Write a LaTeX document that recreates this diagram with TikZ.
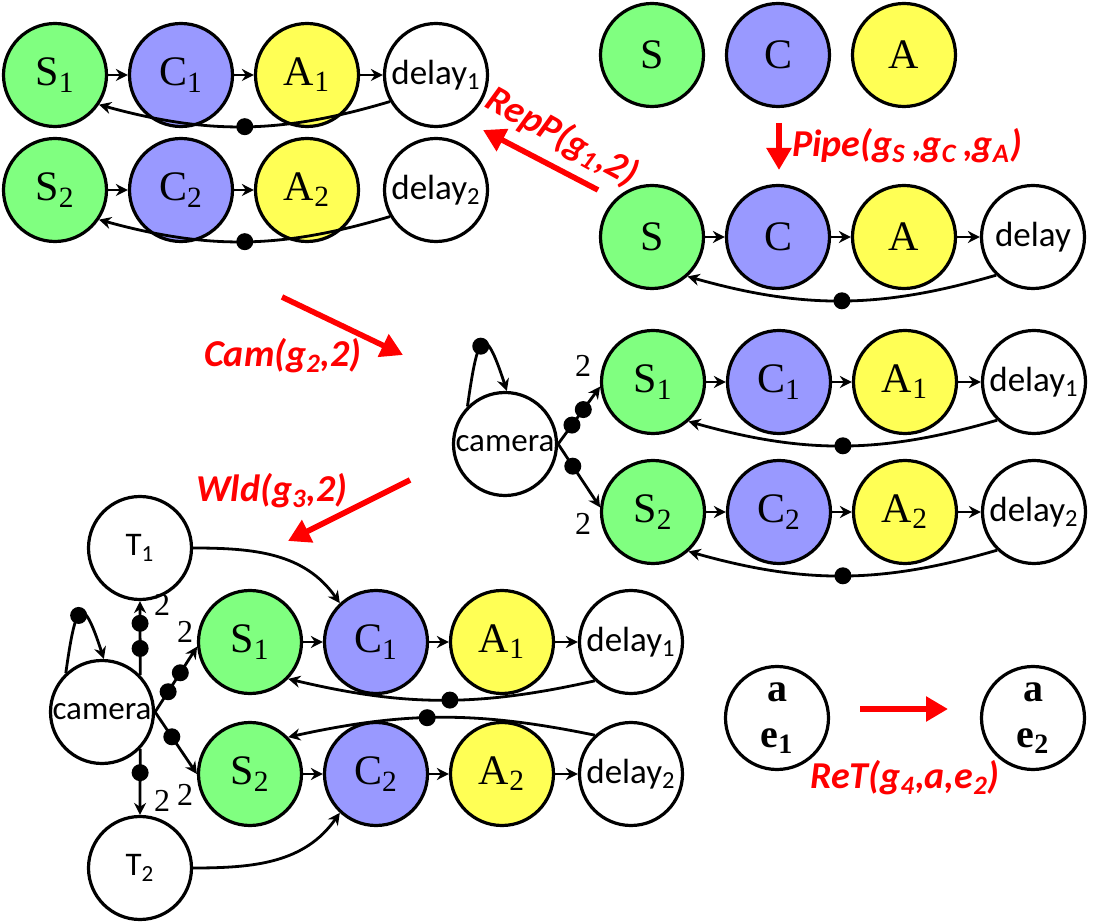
\documentclass[tikz,border=0pt]{standalone}
\usepackage{fontspec}
\setmainfont{Liberation Serif}
\newfontfamily\calib{Carlito}
\usetikzlibrary{arrows.meta}
\definecolor{sgreen}{RGB}{128,255,128}
\definecolor{cblue}{RGB}{153,153,255}
\definecolor{ayellow}{RGB}{255,255,85}
\tikzset{
  actor/.style={circle,draw,line width=1.6pt,minimum size=51.5pt,inner sep=0pt},
  snode/.style={actor,fill=sgreen,font=\fontsize{21}{21}\selectfont},
  cnode/.style={actor,fill=cblue,font=\fontsize{21}{21}\selectfont},
  anode/.style={actor,fill=ayellow,font=\fontsize{21}{21}\selectfont},
  dnode/.style={actor,fill=white,font=\calib\fontsize{17.5}{17.5}\selectfont},
  camnode/.style={actor,fill=white,font=\calib\fontsize{16.5}{16.5}\selectfont},
  enode/.style={actor,fill=white,align=center,font=\bfseries\fontsize{20}{23}\selectfont},
  tok/.style={circle,fill=black,inner sep=0pt,minimum size=8.5pt},
  link/.style={-{Stealth[length=6pt,width=6pt]},line width=1.4pt},
  redarrow/.style={-{Triangle[length=11pt,width=12pt]},draw=red,line width=2.8pt},
  redtext/.style={text=red,inner sep=0pt,font=\calib\bfseries\itshape\fontsize{19}{19}\selectfont},
  rate/.style={inner sep=0pt,font=\fontsize{16}{16}\selectfont}
}
\begin{document}
\begin{tikzpicture}[x=0.5pt,y=-0.5pt]
\useasboundingbox (0,0) rectangle (1098,924);

\node[snode] (tS1) at (55,75) {S\textsubscript{1}};
\node[cnode] (tC1) at (181,75) {C\textsubscript{1}};
\node[anode] (tA1) at (307,75) {A\textsubscript{1}};
\node[dnode] (tD1) at (436,75) {delay\textsubscript{1}};
\node[snode] (tS2) at (55,190) {S\textsubscript{2}};
\node[cnode] (tC2) at (181,190) {C\textsubscript{2}};
\node[anode] (tA2) at (307,190) {A\textsubscript{2}};
\node[dnode] (tD2) at (436,190) {delay\textsubscript{2}};

\draw[link] (tS1) -- (tC1);
\draw[link] (tC1) -- (tA1);
\draw[link] (tA1) -- (tD1);
\draw[link] (tD1.210) to[bend left=16] node[tok,pos=.5] (tk1) {} (tS1.-34);
\draw[link] (tS2) -- (tC2);
\draw[link] (tC2) -- (tA2);
\draw[link] (tD2.210) to[bend left=16] node[tok,pos=.5] (tk2) {} (tS2.-34);

\node[snode] (pS) at (652,55) {S};
\node[cnode] (pC) at (778,55) {C};
\node[anode] (pA) at (904,55) {A};

\node[snode] (qS) at (652,237) {S};
\node[cnode] (qC) at (778,237) {C};
\node[anode] (qA) at (904,237) {A};
\node[dnode] (qD) at (1033,237) {delay};
\draw[link] (qS) -- (qC);
\draw[link] (qC) -- (qA);
\draw[link] (qA) -- (qD);
\draw[link] (qD.226) to[bend left=16] node[tok,pos=.5] (tk3) {} (qS.-48);

\node[camnode] (rcam) at (505,444) {camera};
\node[snode] (rS1) at (653,382) {S\textsubscript{1}};
\node[cnode] (rC1) at (779,382) {C\textsubscript{1}};
\node[anode] (rA1) at (905,382) {A\textsubscript{1}};
\node[dnode] (rD1) at (1034,382) {delay\textsubscript{1}};
\node[snode] (rS2) at (653,512) {S\textsubscript{2}};
\node[cnode] (rC2) at (779,512) {C\textsubscript{2}};
\node[anode] (rA2) at (905,512) {A\textsubscript{2}};
\node[dnode] (rD2) at (1034,512) {delay\textsubscript{2}};

\draw[link] (rS1) -- (rC1);
\draw[link] (rC1) -- (rA1);
\draw[link] (rA1) -- (rD1);
\draw[link] (rD1.226) to[bend left=16] node[tok,pos=.5] (tk4) {} (rS1.-48);
\draw[link] (rS2) -- (rC2);
\draw[link] (rC2) -- (rA2);
\draw[link] (rA2) -- (rD2);
\draw[link] (rD2.226) to[bend left=16] node[tok,pos=.5] (tk5) {} (rS2.-48);

\draw[link] (rcam.135) to[out=82,in=108,looseness=4.5] node[tok,pos=.45] (tk6) {} (rcam.88);
\draw[link] (rcam.east) -- node[tok,pos=.33] (tk7) {} node[tok,pos=.6] (tk8) {} (rS1.185);
\draw[link] (rcam.east) -- node[tok,pos=.35] (tk9) {} (rS2.175);
\node[rate] (r1) at (583,366) {2};
\node[rate] (r2) at (583,524) {2};

\node[camnode] (bcam) at (102,712) {camera};
\node[camnode] (bT1) at (140,548) {T\textsubscript{1}};
\node[camnode] (bT2) at (140,868) {T\textsubscript{2}};
\node[snode] (bS1) at (250,642) {S\textsubscript{1}};
\node[cnode] (bC1) at (376,642) {C\textsubscript{1}};
\node[anode] (bA1) at (502,642) {A\textsubscript{1}};
\node[dnode] (bD1) at (631,642) {delay\textsubscript{1}};
\node[snode] (bS2) at (250,774) {S\textsubscript{2}};
\node[cnode] (bC2) at (376,774) {C\textsubscript{2}};
\node[anode] (bA2) at (502,774) {A\textsubscript{2}};
\node[dnode] (bD2) at (631,774) {delay\textsubscript{2}};

\draw[link] (bS1) -- (bC1);
\draw[link] (bC1) -- (bA1);
\draw[link] (bA1) -- (bD1);
\draw[link] (bD1.227) to[bend left=13] node[tok,pos=.47] (tk10) {} (bS1.-44);
\draw[link] (bS2) -- (bC2);
\draw[link] (bC2) -- (bA2);
\draw[link] (bA2) -- (bD2);
\draw[link] (bD2.133) to[bend right=12] node[tok,pos=.55] (tk11) {} (bS2.44);

\draw[link] (bcam.133) to[out=82,in=108,looseness=4.5] node[tok,pos=.45] (tk12) {} (bcam.88);
\draw[link] (bcam.44) -- node[tok,pos=.36] (tk13) {} node[tok,pos=.7] (tk14) {} (bT1.south);
\draw[link] (bcam.-44) -- node[tok,pos=.36] (tk15) {} (bT2.north);
\draw[link] (bcam.east) -- node[tok,pos=.31] (tk16) {} node[tok,pos=.6] (tk17) {} (bS1.185);
\draw[link] (bcam.east) -- node[tok,pos=.4] (tk18) {} (bS2.180);
\draw[link] (bT1.east) to[out=0,in=125] (bC1.133);
\draw[link] (bT2.east) to[out=0,in=235] (bC2.227);
\node[rate] (r3) at (162,605) {2};
\node[rate] (r4) at (162,801) {2};
\node[rate] (r5) at (185,632) {2};
\node[rate] (r6) at (185,795) {2};

\node[enode] (e1) at (777,718) {a\\e\textsubscript{1}};
\node[enode] (e2) at (1033,718) {a\\e\textsubscript{2}};

\coordinate (pipeT) at (779,123);
\coordinate (pipeH) at (779,170);
\coordinate (repT) at (598,190);
\coordinate (repH) at (483,130);
\coordinate (camT) at (282,297);
\coordinate (camH) at (403,355);
\coordinate (wldT) at (410,480);
\coordinate (wldH) at (288,541);
\coordinate (retT) at (860,709);
\coordinate (retH) at (948,709);
\draw[redarrow] (pipeT) -- (pipeH);
\draw[redarrow] (repT) -- (repH);
\draw[redarrow] (camT) -- (camH);
\draw[redarrow] (wldT) -- (wldH);
\draw[redarrow] (retT) -- (retH);

\node[redtext] (pipeL) at (907,146) {Pipe(g\textsubscript{S}\,,g\textsubscript{C}\,,g\textsubscript{A})};
\node[redtext,rotate=-29] (repL) at (562,137) {RepP(g\textsubscript{1},2)};
\node[redtext] (camL) at (283,356) {Cam(g\textsubscript{2},2)};
\node[redtext] (wldL) at (272,491) {Wld(g\textsubscript{3},2)};
\node[redtext] (retL) at (905,778) {ReT(g\textsubscript{4},a,e\textsubscript{2})};
\end{tikzpicture}
\end{document}
